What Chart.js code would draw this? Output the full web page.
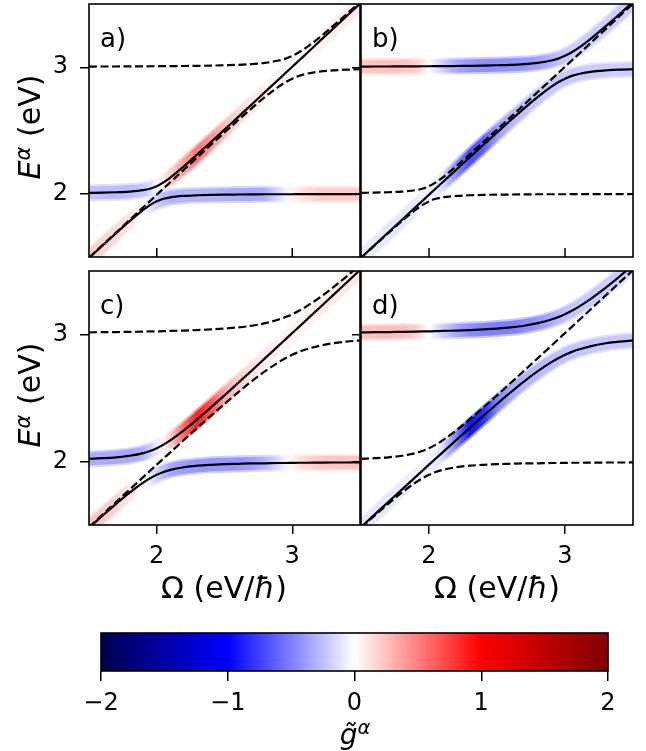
<!DOCTYPE html>
<html>
<head>
<meta charset="utf-8">
<script src="https://cdn.jsdelivr.net/npm/chart.js@4.4.1/dist/chart.umd.min.js"></script>
<style>
  body { margin: 0; background: #fff; width: 646px; height: 751px; position: relative; overflow: hidden; font-family: "DejaVu Sans", sans-serif; color: #000; }
  canvas { position: absolute; left: 0; top: 0; }
  .title { position: absolute; white-space: nowrap; line-height: 1; font-size: 30px; transform: translate(-50%, -50%); }
  .title.vertical { transform: translate(-50%, -50%) rotate(-90deg); }
  .sup { font-size: 0.7em; position: relative; top: -0.5em; }
  .tag { position: absolute; line-height: 1; font-size: 26px; }
</style>
</head>
<body>
<canvas id="panelA" width="646" height="751"></canvas>
<canvas id="panelB" width="646" height="751"></canvas>
<canvas id="panelC" width="646" height="751"></canvas>
<canvas id="panelD" width="646" height="751"></canvas>
<canvas id="colorbar" width="646" height="751"></canvas>

<div class="tag" style="left:100px; top:25px">a)</div>
<div class="tag" style="left:372px; top:25px">b)</div>
<div class="tag" style="left:100px; top:292px">c)</div>
<div class="tag" style="left:372px; top:292px">d)</div>

<div class="title vertical" style="left:30px; top:127px"><i>E</i><span class="sup"><i>α</i></span> (eV)</div>
<div class="title vertical" style="left:30px; top:395px"><i>E</i><span class="sup"><i>α</i></span> (eV)</div>
<div class="title" style="left:224px; top:588px">Ω (eV/<i>ħ</i>)</div>
<div class="title" style="left:497px; top:588px">Ω (eV/<i>ħ</i>)</div>
<div class="title" style="left:355px; top:735px; font-size:28px"><i>g̃</i><span class="sup"><i>α</i></span></div>

<script>
// photon energy grid shared by every branch
const omega = [1.5, 1.6, 1.7, 1.8, 1.9, 1.95, 2.0, 2.05, 2.1, 2.2, 2.3, 2.4, 2.5, 2.6, 2.7, 2.8, 2.9, 2.95, 3.0, 3.05, 3.1, 3.2, 3.3, 3.4, 3.5];

// polariton branches around the 2 eV and 3 eV states, weak coupling (a, b)
const upper2Weak = [2.007, 2.009, 2.012, 2.017, 2.028, 2.040, 2.060, 2.090, 2.128, 2.217, 2.312, 2.409, 2.507, 2.606, 2.705, 2.805, 2.904, 2.954, 3.004, 3.053, 3.103, 3.203, 3.303, 3.403, 3.502];
const lower2Weak = [1.493, 1.591, 1.688, 1.783, 1.872, 1.910, 1.940, 1.960, 1.972, 1.983, 1.988, 1.991, 1.993, 1.994, 1.995, 1.996, 1.996, 1.996, 1.996, 1.997, 1.997, 1.997, 1.997, 1.997, 1.998];
const upper3Weak = [3.005, 3.006, 3.006, 3.007, 3.007, 3.008, 3.008, 3.009, 3.009, 3.010, 3.011, 3.013, 3.016, 3.019, 3.025, 3.035, 3.053, 3.068, 3.090, 3.118, 3.153, 3.235, 3.325, 3.419, 3.516];
const lower3Weak = [1.495, 1.594, 1.694, 1.793, 1.893, 1.942, 1.992, 2.042, 2.091, 2.190, 2.289, 2.387, 2.484, 2.581, 2.675, 2.766, 2.847, 2.882, 2.910, 2.932, 2.947, 2.966, 2.975, 2.981, 2.984];

// same branches, stronger coupling (c, d)
const upper2Strong = [2.021, 2.026, 2.033, 2.045, 2.066, 2.083, 2.105, 2.133, 2.166, 2.245, 2.333, 2.426, 2.521, 2.618, 2.715, 2.814, 2.912, 2.962, 3.011, 3.060, 3.110, 3.209, 3.308, 3.408, 3.507];
const lower2Strong = [1.479, 1.574, 1.667, 1.755, 1.834, 1.867, 1.895, 1.917, 1.934, 1.955, 1.967, 1.974, 1.979, 1.982, 1.985, 1.986, 1.988, 1.988, 1.989, 1.990, 1.990, 1.991, 1.992, 1.992, 1.993];
const upper3Strong = [3.017, 3.018, 3.019, 3.021, 3.023, 3.024, 3.025, 3.026, 3.028, 3.031, 3.035, 3.040, 3.047, 3.056, 3.069, 3.089, 3.118, 3.137, 3.160, 3.187, 3.218, 3.289, 3.369, 3.456, 3.547];
const lower3Strong = [1.483, 1.582, 1.681, 1.779, 1.877, 1.926, 1.975, 2.024, 2.072, 2.169, 2.265, 2.360, 2.453, 2.544, 2.631, 2.711, 2.782, 2.813, 2.840, 2.863, 2.882, 2.911, 2.931, 2.944, 2.953];

// g~ along the solid branches of each panel
const gUpperA = [-0.25, -0.26, -0.27, -0.27, -0.22, -0.15, -0.03, 0.10, 0.20, 0.38, 0.55, 0.42, 0.25, 0.15, 0.10, 0.06, 0.04, 0.03, 0.03, 0.03, 0.04, 0.05, 0.07, 0.08, 0.10];
const gLowerA = [0.20, 0.18, 0.15, 0.10, 0.00, -0.10, -0.20, -0.28, -0.30, -0.30, -0.30, -0.30, -0.32, -0.34, -0.35, -0.32, -0.15, -0.05, 0.05, 0.10, 0.15, 0.20, 0.20, 0.20, 0.20];
const gUpperB = [0.22, 0.24, 0.25, 0.25, 0.20, 0.12, 0.02, -0.10, -0.20, -0.35, -0.42, -0.45, -0.45, -0.44, -0.42, -0.38, -0.30, -0.25, -0.22, -0.20, -0.20, -0.20, -0.20, -0.20, -0.20];
const gLowerB = [-0.08, -0.08, -0.10, -0.10, -0.08, -0.06, -0.05, -0.08, -0.15, -0.45, -0.72, -0.65, -0.40, -0.30, -0.25, -0.22, -0.22, -0.22, -0.22, -0.22, -0.22, -0.21, -0.20, -0.20, -0.20];
const gUpperC = [-0.33, -0.34, -0.35, -0.35, -0.30, -0.20, -0.08, 0.05, 0.20, 0.60, 0.90, 0.70, 0.35, 0.20, 0.12, 0.08, 0.05, 0.05, 0.05, 0.05, 0.06, 0.07, 0.08, 0.09, 0.10];
const gLowerC = [0.25, 0.22, 0.18, 0.10, 0.00, -0.08, -0.18, -0.28, -0.35, -0.40, -0.42, -0.42, -0.42, -0.42, -0.38, -0.30, -0.15, -0.05, 0.05, 0.12, 0.17, 0.22, 0.23, 0.23, 0.23];
const gUpperD = [0.25, 0.26, 0.27, 0.26, 0.20, 0.10, 0.00, -0.10, -0.20, -0.35, -0.45, -0.50, -0.52, -0.52, -0.48, -0.42, -0.34, -0.29, -0.25, -0.23, -0.22, -0.21, -0.20, -0.20, -0.20];
const gLowerD = [-0.10, -0.10, -0.10, -0.08, -0.05, -0.04, -0.05, -0.08, -0.15, -0.50, -0.95, -0.85, -0.50, -0.35, -0.30, -0.28, -0.26, -0.25, -0.25, -0.24, -0.24, -0.23, -0.22, -0.22, -0.22];

const omegaTicks = [2, 3];
const energyTicks = [2, 3];
const colorTicks = [-2, -1, 0, 1, 2];

// seismic colormap anchors
const seismicStops = [[-2, [0, 0, 76.5]], [-1, [0, 0, 255]], [0, [255, 255, 255]], [1, [255, 0, 0]], [2, [127.5, 0, 0]]];

const FONT = { family: 'DejaVu Sans', size: 24 };
const W = 646, H = 751;

function seismic(v, alpha) {
  v = Math.max(-2, Math.min(2, v));
  let k = 0;
  while (k < seismicStops.length - 2 && v > seismicStops[k + 1][0]) k++;
  const [v0, c0] = seismicStops[k];
  const [v1, c1] = seismicStops[k + 1];
  const t = (v - v0) / (v1 - v0);
  const c = c0.map((a, i) => Math.round(a + (c1[i] - a) * t));
  return `rgba(${c[0]}, ${c[1]}, ${c[2]}, ${alpha})`;
}

// horizontal gradient following g~ along a branch
function bandColor(shade, alpha) {
  return function (context) {
    const chart = context.chart;
    const area = chart.chartArea;
    if (!area) return 'rgba(0,0,0,0)';
    const xs = chart.scales.x;
    const grad = chart.ctx.createLinearGradient(area.left, 0, area.right, 0);
    omega.forEach((w, i) => {
      const off = (xs.getPixelForValue(w) - area.left) / area.width;
      grad.addColorStop(Math.min(1, Math.max(0, off)), seismic(shade[i], alpha));
    });
    return grad;
  };
}

// axes keep exactly the size given, with no extra room for labels
function fixSize(size, vertical) {
  return s => {
    if (vertical) s.width = size; else s.height = size;
    s.paddingTop = s.paddingBottom = s.paddingLeft = s.paddingRight = 0;
  };
}

// box around the plot area, optional inward ticks on the bottom edge
const framePlugin = {
  id: 'frame',
  afterDraw(chart, args, opts) {
    const { ctx, chartArea: a } = chart;
    ctx.save();
    ctx.strokeStyle = '#000';
    ctx.lineWidth = 1.6;
    ctx.strokeRect(a.left, a.top, a.width, a.height);
    if (opts.innerTicks) {
      ctx.lineWidth = 1.5;
      omegaTicks.forEach(v => {
        const px = chart.scales.x.getPixelForValue(v);
        ctx.beginPath();
        ctx.moveTo(px, a.bottom);
        ctx.lineTo(px, a.bottom - 9);
        ctx.stroke();
      });
    }
    ctx.restore();
  }
};

const panels = [
  { canvas: 'panelA', left: 89, top: 4, right: 360, bottom: 257, solid: [upper2Weak, lower2Weak], dashed: [upper3Weak, lower3Weak], shade: [gUpperA, gLowerA], yLabels: true, xLabels: false },
  { canvas: 'panelB', left: 361, top: 4, right: 633, bottom: 257, solid: [upper3Weak, lower3Weak], dashed: [upper2Weak, lower2Weak], shade: [gUpperB, gLowerB], yLabels: false, xLabels: false },
  { canvas: 'panelC', left: 89, top: 271, right: 360, bottom: 525, solid: [upper2Strong, lower2Strong], dashed: [upper3Strong, lower3Strong], shade: [gUpperC, gLowerC], yLabels: true, xLabels: true },
  { canvas: 'panelD', left: 361, top: 271, right: 633, bottom: 525, solid: [upper3Strong, lower3Strong], dashed: [upper2Strong, lower2Strong], shade: [gUpperD, gLowerD], yLabels: false, xLabels: true }
];

function points(ys) {
  return omega.map((x, i) => ({ x: x, y: ys[i] }));
}

function curve(ys, extra) {
  return Object.assign({
    data: points(ys),
    pointRadius: 0,
    fill: false,
    cubicInterpolationMode: 'monotone',
    clip: 0
  }, extra);
}

function drawPanel(p) {
  const datasets = [];
  p.solid.forEach(ys => datasets.push(curve(ys, { borderColor: '#000', borderWidth: 2.2, order: 0 })));
  p.dashed.forEach(ys => datasets.push(curve(ys, { borderColor: '#000', borderWidth: 2.2, borderDash: [8, 3.5], order: 1 })));
  p.solid.forEach((ys, k) => {
    datasets.push(curve(ys, { borderColor: bandColor(p.shade[k], 0.95), borderWidth: 13, order: 2, borderJoinStyle: 'round' }));
    datasets.push(curve(ys, { borderColor: bandColor(p.shade[k], 0.45), borderWidth: 17, order: 3, borderJoinStyle: 'round' }));
  });

  new Chart(document.getElementById(p.canvas), {
    type: 'line',
    data: { datasets },
    plugins: [framePlugin],
    options: {
      responsive: false,
      animation: false,
      events: [],
      layout: { autoPadding: false, padding: { left: 0, top: p.top, right: W - p.right, bottom: 0 } },
      plugins: { legend: { display: false }, tooltip: { enabled: false }, frame: { innerTicks: !p.xLabels } },
      scales: {
        x: {
          type: 'linear', min: 1.5, max: 3.5,
          afterBuildTicks: s => { s.ticks = omegaTicks.map(v => ({ value: v })); },
          afterFit: fixSize(H - p.bottom, false),
          border: { display: false },
          grid: { drawOnChartArea: false, drawTicks: p.xLabels, tickLength: 9, color: '#000', lineWidth: 1.5 },
          ticks: { display: p.xLabels, color: '#000', padding: 8, maxRotation: 0, font: FONT }
        },
        y: {
          type: 'linear', min: 1.5, max: 3.5,
          afterBuildTicks: s => { s.ticks = energyTicks.map(v => ({ value: v })); },
          afterFit: fixSize(p.left, true),
          border: { display: false },
          grid: { drawOnChartArea: false, drawTicks: true, tickLength: 9, color: '#000', lineWidth: 1.5 },
          ticks: { display: p.yLabels, color: '#000', padding: 12, font: FONT }
        }
      }
    }
  });
}

panels.forEach(drawPanel);

// colour bar for g~
const colorbarFill = {
  id: 'colorbarFill',
  beforeDatasetsDraw(chart) {
    const { ctx, chartArea: a } = chart;
    const xs = chart.scales.x;
    const grad = ctx.createLinearGradient(a.left, 0, a.right, 0);
    seismicStops.forEach(([v]) => {
      grad.addColorStop((xs.getPixelForValue(v) - a.left) / a.width, seismic(v, 1));
    });
    ctx.save();
    ctx.fillStyle = grad;
    ctx.fillRect(a.left, a.top, a.width, a.height);
    ctx.restore();
  }
};

new Chart(document.getElementById('colorbar'), {
  type: 'scatter',
  data: { datasets: [] },
  plugins: [colorbarFill, framePlugin],
  options: {
    responsive: false,
    animation: false,
    events: [],
    layout: { autoPadding: false, padding: { left: 101, top: 633, right: W - 608, bottom: 0 } },
    plugins: { legend: { display: false }, tooltip: { enabled: false }, frame: { innerTicks: false } },
    scales: {
      x: {
        type: 'linear', min: -2, max: 2,
        afterBuildTicks: s => { s.ticks = colorTicks.map(v => ({ value: v })); },
        afterFit: fixSize(H - 671, false),
        border: { display: false },
        grid: { drawOnChartArea: false, drawTicks: true, tickLength: 10, color: '#000', lineWidth: 1.5 },
        ticks: { color: '#000', padding: 8, maxRotation: 0, font: FONT, callback: v => String(v).replace('-', '\u2212') }
      },
      y: { display: false, min: 0, max: 1 }
    }
  }
});
</script>
</body>
</html>
